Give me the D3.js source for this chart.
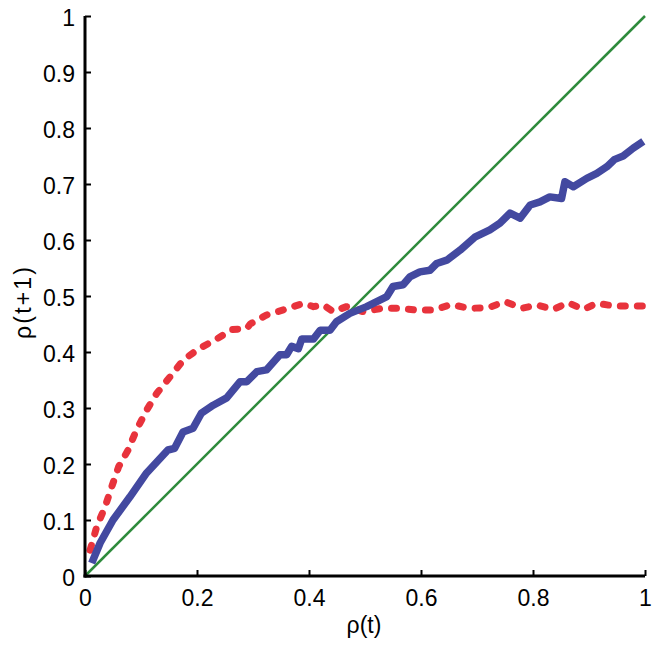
<!DOCTYPE html>
<html><head><meta charset="utf-8">
<script src="https://cdn.jsdelivr.net/npm/d3@7"></script>
<style>body{margin:0;background:#fff}svg{display:block}</style>
</head><body>
<script>
const xTicks = [0, 0.2, 0.4, 0.6, 0.8, 1];
const yTicks = [0, 0.1, 0.2, 0.3, 0.4, 0.5, 0.6, 0.7, 0.8, 0.9, 1];
const tickLabelsX = ["0", "0.2", "0.4", "0.6", "0.8", "1"];
const tickLabelsY = ["0", "0.1", "0.2", "0.3", "0.4", "0.5", "0.6", "0.7", "0.8", "0.9", "1"];

const identityX = [0, 1];
const identityY = [0, 1];

const blueX = [0.012,0.027,0.05,0.08,0.11,0.148,0.16,0.175,0.193,0.208,0.229,0.253,0.277,0.289,0.307,0.324,0.348,0.36,0.369,0.381,0.387,0.408,0.42,0.4375,0.449,0.473,0.503,0.521,0.539,0.55,0.568,0.58,0.598,0.616,0.628,0.646,0.67,0.696,0.723,0.741,0.759,0.777,0.795,0.8125,0.83,0.851,0.857,0.872,0.896,0.914,0.932,0.946,0.961,0.979,0.997];
const blueY = [0.023,0.059,0.1,0.141,0.184,0.225,0.228,0.257,0.264,0.291,0.305,0.318,0.347,0.347,0.365,0.368,0.395,0.395,0.41,0.406,0.423,0.423,0.439,0.439,0.454,0.469,0.481,0.49,0.499,0.517,0.52,0.534,0.543,0.546,0.558,0.564,0.582,0.605,0.618,0.63,0.648,0.639,0.6625,0.668,0.677,0.674,0.704,0.695,0.71,0.719,0.731,0.744,0.75,0.764,0.776];

const redX = [0.009,0.021,0.036,0.048,0.06,0.077,0.092,0.11,0.128,0.152,0.176,0.202,0.235,0.262,0.289,0.295,0.324,0.357,0.39,0.408,0.426,0.443,0.467,0.497,0.53,0.5625,0.589,0.622,0.655,0.684,0.72,0.75,0.78,0.807,0.836,0.863,0.89,0.914,0.946,0.976,1.0];
const redY = [0.046,0.088,0.124,0.16,0.195,0.225,0.261,0.296,0.326,0.356,0.386,0.405,0.423,0.44,0.442,0.45,0.466,0.476,0.487,0.481,0.484,0.472,0.481,0.472,0.478,0.478,0.475,0.475,0.485,0.478,0.479,0.49,0.478,0.484,0.476,0.488,0.476,0.487,0.482,0.482,0.482];

const W = 664, H = 650;
const mLeft = 85, mRight = 645, mTop = 16, mBottom = 576;
const font = "'Liberation Sans', Arial, Helvetica, sans-serif";
const fs = 23;

const svg = d3.select("body").append("svg").attr("width", W).attr("height", H);
const x = d3.scaleLinear().domain([0, 1]).range([mLeft, mRight]);
const y = d3.scaleLinear().domain([0, 1]).range([mBottom, mTop]);

const line = d3.line().x(d => x(d[0])).y(d => y(d[1]));

svg.append("path").datum(identityX.map((v, i) => [v, identityY[i]]))
  .attr("d", line).attr("fill", "none").attr("stroke", "#2e8b3c").attr("stroke-width", 2.5);

svg.append("path").datum(redX.map((v, i) => [v, redY[i]]))
  .attr("d", line).attr("fill", "none").attr("stroke", "#e8333c").attr("stroke-width", 7)
  .attr("stroke-dasharray", "5,12").attr("stroke-linecap", "round").attr("stroke-linejoin", "round");

svg.append("path").datum(blueX.map((v, i) => [v, blueY[i]]))
  .attr("d", line).attr("fill", "none").attr("stroke", "#4349a0").attr("stroke-width", 7.5)
  .attr("stroke-linejoin", "round");

const xAxis = d3.axisBottom(x).tickValues(xTicks).tickFormat((d, i) => tickLabelsX[i])
  .tickSizeInner(-6).tickSizeOuter(0).tickPadding(14);
const yAxis = d3.axisLeft(y).tickValues(yTicks).tickFormat((d, i) => tickLabelsY[i])
  .tickSizeInner(-6).tickSizeOuter(0).tickPadding(10);

const gx = svg.append("g").attr("transform", `translate(0,${mBottom})`).call(xAxis);
const gy = svg.append("g").attr("transform", `translate(${mLeft},0)`).call(yAxis);

[gx, gy].forEach(g => {
  g.select(".domain").attr("stroke", "#000").attr("stroke-width", 3);
  g.selectAll(".tick line").attr("stroke", "#000").attr("stroke-width", 2);
  g.selectAll(".tick text").attr("fill", "#000").attr("font-family", font).attr("font-size", fs);
});
gx.selectAll(".tick text").attr("dy", "0.71em");
gy.selectAll(".tick text").attr("dy", "0.43em");
gx.select(".domain").attr("d", `M${mLeft - 1.5},0H${mRight}`);
gy.select(".domain").attr("d", `M0,${mTop}V${mBottom + 1.5}`);

svg.append("text").attr("x", 364).attr("y", 633).attr("text-anchor", "middle")
  .attr("font-family", font).attr("font-size", fs).attr("fill", "#000").text("ρ(t)");
svg.append("text").attr("transform", `translate(31,303) rotate(-90)`)
  .attr("text-anchor", "middle").attr("textLength", 72).attr("lengthAdjust", "spacing")
  .attr("font-family", font).attr("font-size", fs).attr("fill", "#000").text("ρ(t+1)");
</script>
</body></html>
